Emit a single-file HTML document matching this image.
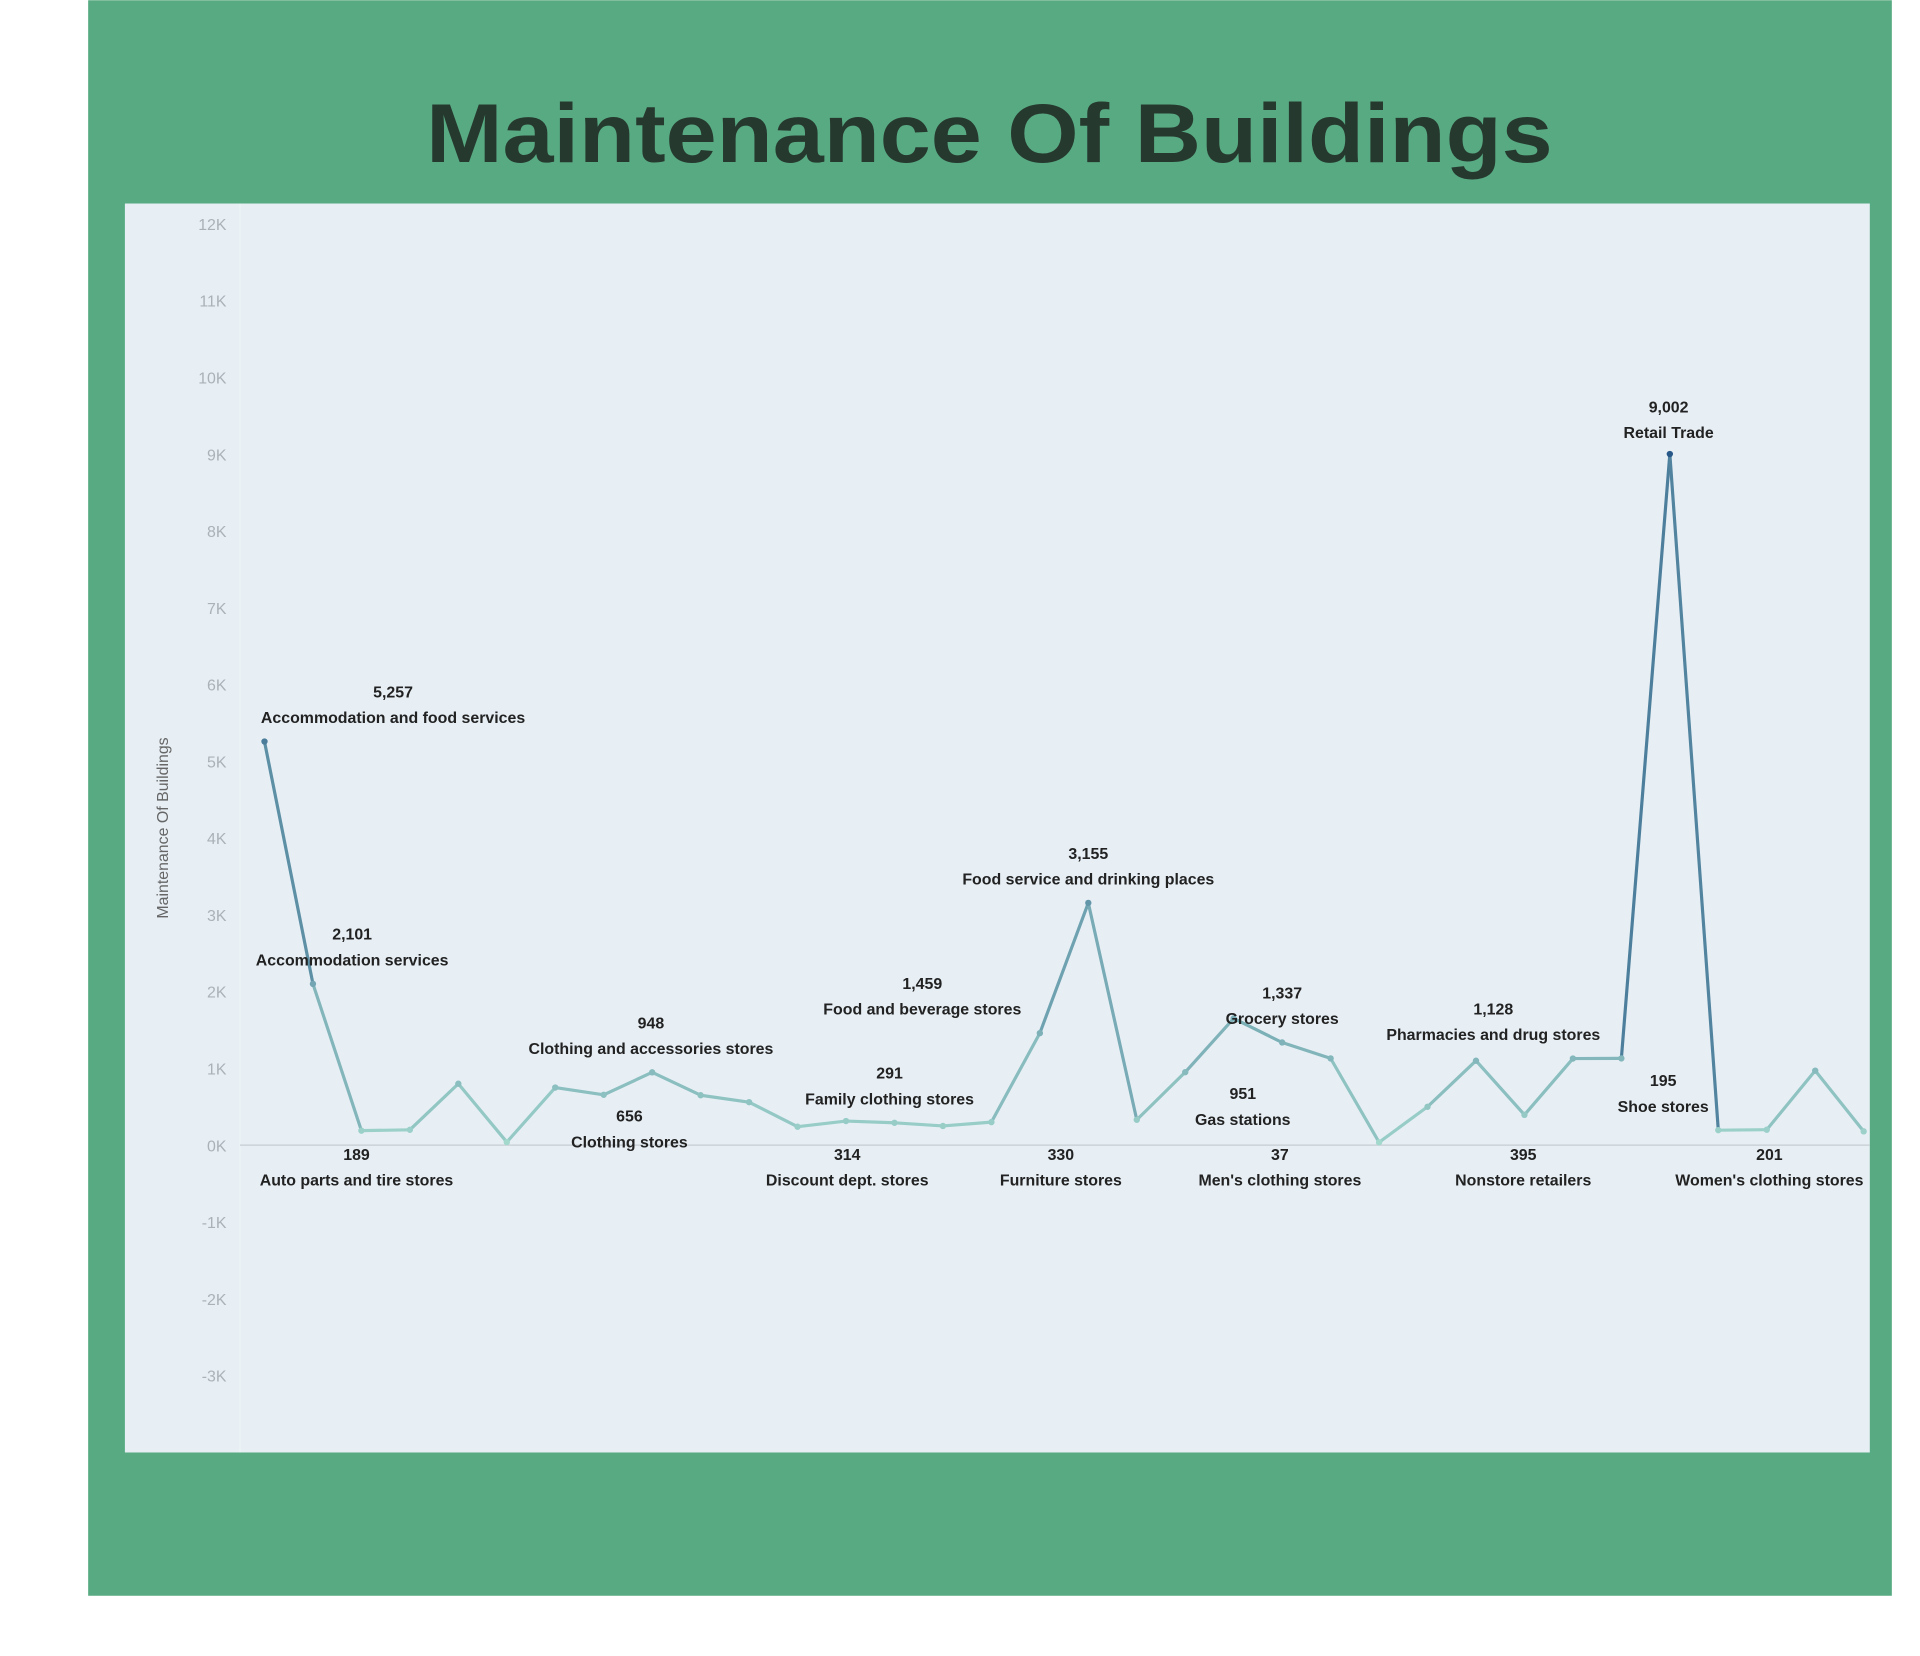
<!DOCTYPE html>
<html><head><meta charset="utf-8"><style>
html,body{margin:0;padding:0;background:#fff;width:1920px;height:1656px;overflow:hidden}
svg{display:block}
text{font-family:"Liberation Sans",sans-serif}
</style></head><body>
<svg id="chart" width="1920" height="1656" viewBox="0 0 1568 1352" xmlns="http://www.w3.org/2000/svg">
<rect x="72" y="0" width="1473" height="1303" fill="#58aa82"/>
<text x="808" y="132" text-anchor="middle" font-size="68" font-weight="bold" fill="#26392f" textLength="920" lengthAdjust="spacingAndGlyphs">Maintenance Of Buildings</text>
<rect x="102" y="166" width="1425" height="1020" fill="#e7eff5"/>
<line x1="196" y1="166" x2="196" y2="1186" stroke="#eef3f6" stroke-width="1"/>
<text transform="translate(137,676) rotate(-90)" text-anchor="middle" font-size="13" fill="#666">Maintenance Of Buildings</text>
<g id="ticks"></g><g id="lines"></g><g id="labels"></g>
</svg>
<script>
const categories=["Accommodation and food services","Accommodation services","Auto parts and tire stores","c3","c4","c5","c6","Clothing stores","Clothing and accessories stores","c9","c10","c11","Discount dept. stores","Family clothing stores","c14","c15","Food and beverage stores","Food service and drinking places","Furniture stores","Gas stations","c20","Grocery stores","c22","Men's clothing stores","c24","c25","Nonstore retailers","Pharmacies and drug stores","c28","Retail Trade","Shoe stores","Women's clothing stores","c32","c33"];
const values=[5257,2101,189,200,800,40,750,656,948,650,560,240,314,291,250,300,1459,3155,330,951,1650,1337,1130,37,500,1100,395,1128,1130,9002,195,201,970,180];
const labelIdx=[0,1,2,7,8,12,13,16,17,18,19,21,23,26,27,29,30,31];
const labelBelow=[false,false,true,true,false,true,false,false,false,true,true,false,true,true,false,false,false,true];
const labelDx=[105,32,-4,21,-1,1,-4,-96,0,-62,47,0,-81,-1,-65,-1,-45,4];
const yTicks=[12,11,10,9,8,7,6,5,4,3,2,1,0,-1,-2,-3];
const tickLabels=["12K","11K","10K","9K","8K","7K","6K","5K","4K","3K","2K","1K","0K","-1K","-2K","-3K"];
const NS="http://www.w3.org/2000/svg";
const x=i=>216+i*(1522-216)/(categories.length-1);
const y=v=>935-v*62.7/1000;
function col(v){const t=Math.min(1,Math.max(0,v/9000));const a=[168,221,208],b=[40,88,135];return `rgb(${a.map((c,k)=>Math.round(c+(b[k]-c)*Math.pow(t,0.6))).join(",")})`;}
const tg=document.getElementById('ticks');
yTicks.forEach((t,i)=>{const e=document.createElementNS(NS,'text');


e.setAttribute('x',185);e.setAttribute('y',y(t*1000)+5);e.setAttribute('text-anchor','end');e.setAttribute('font-size','13');e.setAttribute('fill','#aab2b8');e.textContent=tickLabels[i];tg.appendChild(e);});
const zl=document.createElementNS(NS,'line');


zl.setAttribute('x1',196);zl.setAttribute('x2',1527);zl.setAttribute('y1',y(0));zl.setAttribute('y2',y(0));zl.setAttribute('stroke','#c5cdd3');zl.setAttribute('stroke-width','1');tg.appendChild(zl);
const lg=document.getElementById('lines');
for(let i=0;i<values.length-1;i++){const l=document.createElementNS(NS,'line');


l.setAttribute('x1',x(i));l.setAttribute('y1',y(values[i]));l.setAttribute('x2',x(i+1));l.setAttribute('y2',y(values[i+1]));l.setAttribute('stroke',col((values[i]+values[i+1])/2));l.setAttribute('stroke-width','2.6');l.setAttribute('stroke-linecap','round');lg.appendChild(l);}
values.forEach((v,i)=>{const c=document.createElementNS(NS,'circle');


c.setAttribute('cx',x(i));c.setAttribute('cy',y(v));c.setAttribute('r','2.6');c.setAttribute('fill',col(v));lg.appendChild(c);});
const lb=document.getElementById('labels');
labelIdx.forEach((idx,k)=>{const v=values[idx];const cx=Math.min(x(idx)+labelDx[k],1445);
let vy=labelBelow[k]?y(v)+ (v<500? (y(0)-y(v))+12:22):y(v)-36;
if(idx===29)vy=y(v)-34;
const t1=document.createElementNS(NS,'text');


t1.setAttribute('x',cx);t1.setAttribute('y',vy);t1.setAttribute('text-anchor','middle');t1.setAttribute('font-size','13');t1.setAttribute('font-weight','bold');t1.setAttribute('fill','#222');t1.textContent=v.toLocaleString('en-US');lb.appendChild(t1);
const t2=document.createElementNS(NS,'text');


t2.setAttribute('x',cx);t2.setAttribute('y',vy+21);t2.setAttribute('text-anchor','middle');t2.setAttribute('font-size','13');t2.setAttribute('font-weight','bold');t2.setAttribute('fill','#222');t2.textContent=categories[idx];lb.appendChild(t2);});
</script>
</body></html>
